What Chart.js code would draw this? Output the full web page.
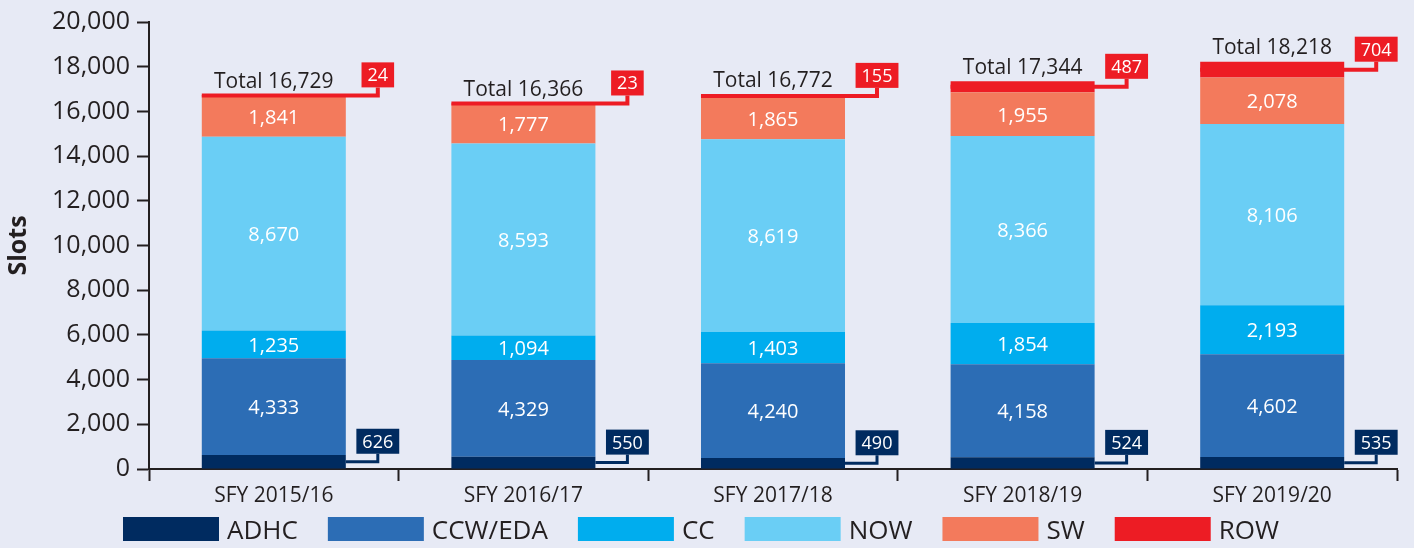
<!DOCTYPE html>
<html>
<head>
<meta charset="utf-8">
<script src="https://cdn.jsdelivr.net/npm/chart.js@4/dist/chart.umd.min.js"></script>
<style>
  html, body { margin: 0; padding: 0; background: #e7eaf5; }
  #wrap { width: 1414px; height: 548px; position: relative; }
</style>
</head>
<body>
<div id="wrap"><canvas id="c"></canvas></div>
<script>
const categories = ['SFY 2015/16', 'SFY 2016/17', 'SFY 2017/18', 'SFY 2018/19', 'SFY 2019/20'];
const seriesNames = ['ADHC', 'CCW/EDA', 'CC', 'NOW', 'SW', 'ROW'];
const adhc   = [626, 550, 490, 524, 535];
const ccwEda = [4333, 4329, 4240, 4158, 4602];
const cc     = [1235, 1094, 1403, 1854, 2193];
const now    = [8670, 8593, 8619, 8366, 8106];
const sw     = [1841, 1777, 1865, 1955, 2078];
const row    = [24, 23, 155, 487, 704];
const yTicks = [0, 2000, 4000, 6000, 8000, 10000, 12000, 14000, 16000, 18000, 20000];

const seriesValues = [adhc, ccwEda, cc, now, sw, row];
const colors = ['#002b60', '#2c6db5', '#00adee', '#6acef5', '#f37a5c', '#ed1c24'];
const DARK = '#231f20';
const FONT = "'Open Sans', 'Noto Sans', sans-serif";
const fmt = v => Number(v).toLocaleString('en-US');

const bgPlugin = {
  id: 'bg',
  beforeDraw(chart) {
    const ctx = chart.ctx;
    ctx.save();
    ctx.fillStyle = '#e7eaf5';
    ctx.fillRect(0, 0, chart.width, chart.height);
    ctx.restore();
  }
};

const labelPlugin = {
  id: 'labels',
  afterDatasetsDraw(chart) {
    const ctx = chart.ctx;
    ctx.save();
    const n = categories.length;
    for (let i = 0; i < n; i++) {
      // inner labels
      for (let d = 1; d <= 4; d++) {
        const el = chart.getDatasetMeta(d).data[i];
        const mid = (el.y + el.base) / 2;
        ctx.font = '20px ' + FONT;
        ctx.fillStyle = '#ffffff';
        ctx.textAlign = 'center';
        ctx.textBaseline = 'alphabetic';
        ctx.fillText(fmt(seriesValues[d][i]), el.x, mid + 7.5);
      }
      // ADHC callout
      {
        const el = chart.getDatasetMeta(0).data[i];
        const xR = el.x + el.width / 2;
        const mid = (el.y + el.base) / 2;
        const cx = xR + 32;
        ctx.strokeStyle = colors[0];
        ctx.lineWidth = 3;
        ctx.beginPath();
        ctx.moveTo(xR, mid);
        ctx.lineTo(cx, mid);
        ctx.lineTo(cx, mid - 8);
        ctx.stroke();
        ctx.font = '18px ' + FONT;
        const t = fmt(adhc[i]);
        const w = ctx.measureText(t).width + 12;
        ctx.fillStyle = colors[0];
        ctx.fillRect(cx - w / 2, mid - 8 - 25, w, 25);
        ctx.fillStyle = '#ffffff';
        ctx.textAlign = 'center';
        ctx.fillText(t, cx, mid - 8 - 6);
      }
      // ROW callout
      {
        const el = chart.getDatasetMeta(5).data[i];
        const xL = el.x - el.width / 2;
        const xR = el.x + el.width / 2;
        const mid = (el.y + el.base) / 2;
        const cx = xR + 32;
        ctx.strokeStyle = colors[5];
        ctx.lineWidth = 4;
        ctx.beginPath();
        ctx.moveTo(xL, mid);
        ctx.lineTo(cx, mid);
        ctx.lineTo(cx, mid - 8);
        ctx.stroke();
        ctx.font = '18px ' + FONT;
        const t = fmt(row[i]);
        const w = ctx.measureText(t).width + 12;
        ctx.fillStyle = colors[5];
        ctx.fillRect(cx - w / 2, mid - 8 - 25, w, 25);
        ctx.fillStyle = '#ffffff';
        ctx.textAlign = 'center';
        ctx.fillText(t, cx, mid - 8 - 6);
        // total
        let total = 0;
        seriesValues.forEach(s => total += s[i]);
        ctx.font = '21px ' + FONT;
        ctx.fillStyle = DARK;
        ctx.fillText('Total ' + fmt(total), el.x, el.y - 7.5);
      }
    }
    ctx.restore();
  },
  afterDraw(chart) {
    // legend
    const ctx = chart.ctx;
    ctx.save();
    ctx.font = '26px ' + FONT;
    const boxW = 96, boxH = 24, gap = 8, spacing = 30;
    const widths = seriesNames.map(s => boxW + gap + ctx.measureText(s).width);
    const total = widths.reduce((a, b) => a + b, 0) + spacing * (widths.length - 1);
    let x = chart.width / 2 - 6 - total / 2;
    const top = 517;
    seriesNames.forEach((s, k) => {
      ctx.fillStyle = colors[k];
      ctx.fillRect(x, top, boxW, boxH);
      ctx.fillStyle = DARK;
      ctx.textAlign = 'left';
      ctx.textBaseline = 'alphabetic';
      ctx.fillText(s, x + boxW + gap, top + boxH / 2 + 9.5);
      x += widths[k] + spacing;
    });
    ctx.restore();
  }
};

new Chart(document.getElementById('c'), {
  type: 'bar',
  data: {
    labels: categories,
    datasets: seriesNames.map((name, k) => ({
      label: name,
      data: seriesValues[k],
      backgroundColor: colors[k],
      borderWidth: 0,
      barPercentage: 0.577,
      categoryPercentage: 1.0
    }))
  },
  options: {
    responsive: true,
    maintainAspectRatio: false,
    animation: false,
    devicePixelRatio: 1,
    layout: { padding: { top: 18, right: 17, bottom: 40, left: 0 } },
    plugins: {
      legend: { display: false },
      tooltip: { enabled: false }
    },
    scales: {
      x: {
        stacked: true,
        offset: true,
        grid: {
          offset: true,
          drawOnChartArea: false,
          drawTicks: true,
          tickLength: 12,
          tickWidth: 2,
          tickColor: DARK
        },
        border: { display: true, color: DARK, width: 2 },
        ticks: {
          color: DARK,
          font: { family: FONT, size: 21 },
          padding: 2,
          maxRotation: 0
        },
        afterFit(scale) { scale.height = 39; }
      },
      y: {
        stacked: true,
        min: 0,
        max: 20000,
        afterBuildTicks(scale) { scale.ticks = yTicks.map(v => ({ value: v })); },
        grid: {
          drawOnChartArea: false,
          drawTicks: true,
          tickLength: 12,
          tickWidth: 2,
          tickColor: DARK
        },
        border: { display: true, color: DARK, width: 2 },
        ticks: {
          color: DARK,
          font: { family: FONT, size: 25 },
          padding: 7,
          callback: v => fmt(v)
        },
        title: {
          display: true,
          text: 'Slots',
          color: DARK,
          font: { family: FONT, size: 25, weight: 'bold' },
          padding: { top: 4, bottom: 0 }
        },
        afterFit(scale) { scale.width = 149; }
      }
    }
  },
  plugins: [bgPlugin, labelPlugin]
});
</script>
</body>
</html>
